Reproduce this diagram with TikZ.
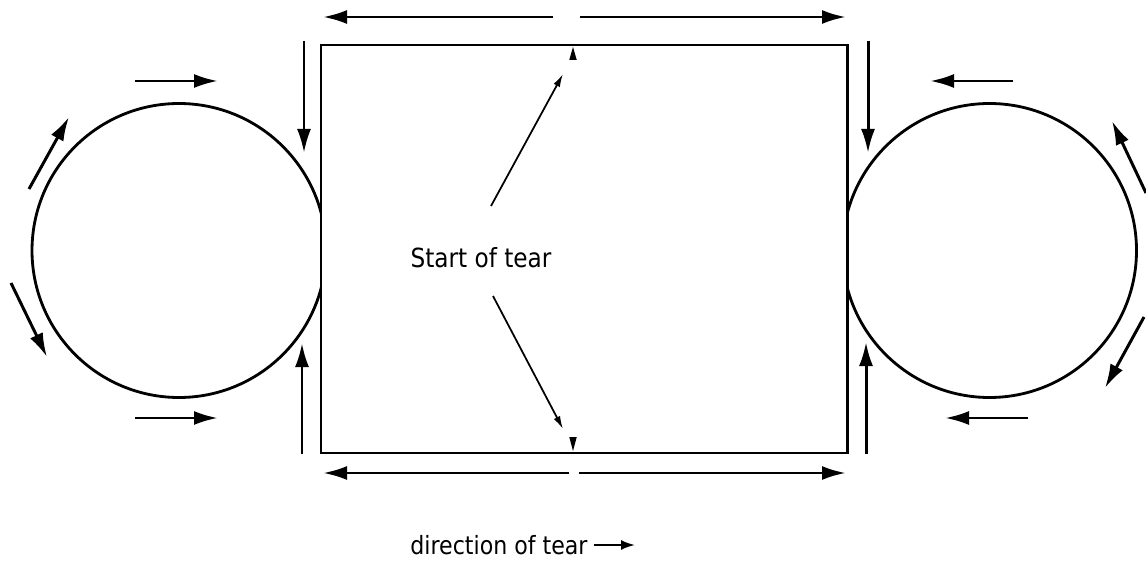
\documentclass[tikz,border=0pt]{standalone}
\usepackage{fontspec}
\setmainfont{DejaVu Sans}[FakeStretch=0.88]
\usetikzlibrary{arrows.meta,positioning,calc}

\begin{document}
\begin{tikzpicture}[
  every node/.style={font=\fontsize{15}{18}\selectfont},
  roll/.style={draw=black,circle,line width=1.6pt,minimum size=5.88cm,inner sep=0pt,outer sep=0pt},
  sheet/.style={draw=black,fill=white,line width=1.7pt,minimum width=10.52cm,minimum height=8.16cm,inner sep=0pt,outer sep=0pt},
  ar/.style={-{Latex[length=4.8mm,width=2.8mm]},line width=1.7pt},
  thin/.style={-{Latex[length=2.6mm,width=1.4mm]},line width=1pt},
  key/.style={-{Latex[length=2.8mm,width=2mm]},line width=1.1pt}]
\useasboundingbox (0,0) rectangle (22.92,-11.58);
\node[roll] (lroll) at (3.58,-5.01) {};
\node[roll] (rroll) at (19.79,-5.01) {};
\node[sheet] (plate) at (11.68,-4.98) {};
\coordinate (tearT) at (11.46,-0.94);
\coordinate (tearB) at (11.46,-9.02);
\fill (tearT) -- ++(0.075,-0.26) -- ++(-0.15,0) -- cycle;
\fill (tearB) -- ++(0.075,0.28) -- ++(-0.15,0) -- cycle;
\node (start) at (9.62,-5.15) {Start of tear};
\coordinate (up0) at (9.82,-4.12);
\coordinate (up1) at (11.26,-1.48);
\coordinate (dn0) at (9.86,-5.92);
\coordinate (dn1) at (11.26,-8.58);
\draw[thin] (up0) -- (up1);
\draw[thin] (dn0) -- (dn1);
\draw[ar] (11.06,-0.34) -- (6.46,-0.34);
\draw[ar] (11.6,-0.34) -- (16.92,-0.34);
\draw[ar] (11.38,-9.46) -- (6.46,-9.46);
\draw[ar] (11.58,-9.46) -- (16.92,-9.46);
\draw[ar] (6.08,-0.82) -- (6.08,-3.06);
\draw[ar] (6.04,-9.08) -- (6.04,-6.86);
\draw[ar] (17.36,-0.82) -- (17.36,-3.06);
\draw[ar] (17.32,-9.08) -- (17.32,-6.84);
\draw[ar] (2.7,-1.62) -- (4.36,-1.62);
\draw[ar] (2.7,-8.36) -- (4.36,-8.36);
\draw[ar] (0.58,-3.78) -- (1.38,-2.34);
\draw[ar] (0.22,-5.66) -- (0.94,-7.14);
\draw[ar] (20.26,-1.62) -- (18.6,-1.62);
\draw[ar] (20.56,-8.36) -- (18.9,-8.36);
\draw[ar] (22.92,-3.86) -- (22.24,-2.42);
\draw[ar] (22.88,-6.34) -- (22.1,-7.76);
\node[anchor=west,inner sep=0pt,font=\fontsize{14.3}{17}\selectfont] (dir) at (8.2,-10.9) {direction of tear};
\coordinate (dirend) at (12.7,-10.9);
\draw[key] ([xshift=1.3mm]dir.east) -- (dirend);
\end{tikzpicture}
\end{document}
